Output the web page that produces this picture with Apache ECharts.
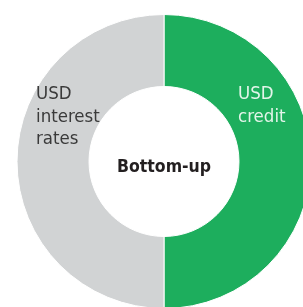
<!DOCTYPE html>
<html>
<head>
<meta charset="utf-8">
<script src="https://cdn.jsdelivr.net/npm/echarts@6/dist/echarts.min.js"></script>
<style>
  html, body { margin: 0; padding: 0; background: #fff; }
  #chart { width: 303px; height: 307px; }
</style>
</head>
<body>
<div id="chart"></div>
<script>
  // data
  const names = ['USD\ncredit', 'USD\ninterest\nrates'];
  const values = [50, 50];
  const colors = ['#1dae5d', '#d1d3d4'];
  const labelColors = ['#e3f5ea', '#3a3a3a'];
  const labelPos = [[238, 83], [36, 83]];
  const centerText = 'Bottom-up';

  const font = '"Liberation Sans Narrow", "DejaVu Sans Condensed", sans-serif';

  let myChart = echarts.init(document.getElementById('chart'));
  const labels = names.map((n, i) => ({
    type: 'text',
    x: labelPos[i][0],
    y: labelPos[i][1],
    z: 100,
    silent: true,
    style: {
      text: n,
      fill: labelColors[i],
      font: '18.5px ' + font,
      lineHeight: 22.5,
      textAlign: 'left',
      textVerticalAlign: 'top'
    }
  }));
  const option = {
    animation: false,
    graphic: labels.concat([{
      type: 'text',
      x: 164,
      y: 167,
      z: 100,
      silent: true,
      style: {
        text: centerText,
        fill: '#231f20',
        font: 'bold 17.5px ' + font,
        textAlign: 'center',
        textVerticalAlign: 'middle'
      }
    }]),
    series: [{
      type: 'pie',
      center: [164, 161.5],
      radius: [75, 147],
      startAngle: 90,
      clockwise: true,
      silent: true,
      itemStyle: { borderColor: '#fff', borderWidth: 1 },
      label: { show: false },
      labelLine: { show: false },
      data: names.map((n, i) => ({
        name: n,
        value: values[i],
        itemStyle: { color: colors[i] }
      }))
    }]
  };
  myChart.setOption(option);
</script>
</body>
</html>
